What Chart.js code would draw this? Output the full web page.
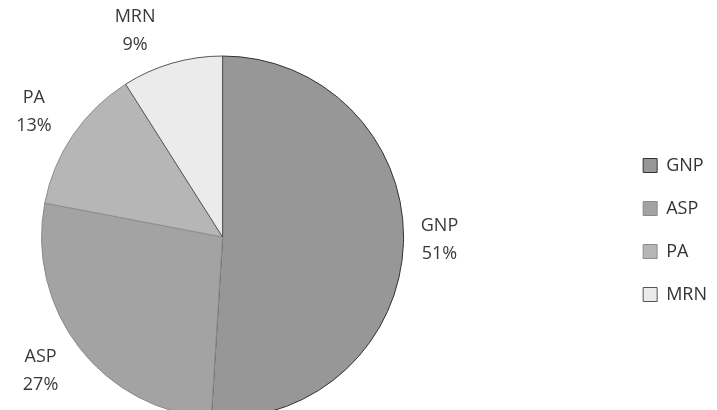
<!DOCTYPE html>
<html><head><meta charset="utf-8">
<script src="https://cdn.jsdelivr.net/npm/chart.js@4.4.1/dist/chart.umd.min.js"></script>
<style>html,body{margin:0;padding:0;background:#fff;overflow:hidden;} #wrap{width:717px;height:410px;position:relative;overflow:hidden;} #c{position:absolute;left:-173px;top:0;}</style>
</head><body><div id="wrap"><canvas id="c" width="890" height="410"></canvas></div>
<script>
const categories = ['GNP', 'ASP', 'PA', 'MRN'];
const shares = [51, 27, 13, 9];
const sliceColors = ['#979797', '#a3a3a3', '#b6b6b6', '#ebebeb'];
const sliceBorders = ['#333333', '#8a8a8a', '#8e8e8e', '#555555'];

const outsideLabels = {
  id: 'outsideLabels',
  afterDatasetsDraw(chart, args, opts) {
    const meta = chart.getDatasetMeta(0);
    const data = chart.data.datasets[0].data;
    const total = data.reduce((a, b) => a + b, 0);
    const ctx = chart.ctx;
    ctx.save();
    ctx.font = opts.font;
    ctx.fillStyle = opts.color;
    ctx.textAlign = 'center';
    ctx.textBaseline = 'middle';
    meta.data.forEach((arc, i) => {
      const p = arc.getProps(['x', 'y', 'startAngle', 'endAngle', 'outerRadius'], true);
      const mid = (p.startAngle + p.endAngle) / 2;
      const ax = p.x + Math.cos(mid) * p.outerRadius + opts.offsets[i][0];
      const ay = p.y + Math.sin(mid) * p.outerRadius + opts.offsets[i][1];
      ctx.fillText(chart.data.labels[i], ax, ay - opts.lineGap / 2);
      ctx.fillText(Math.round(data[i] / total * 100) + '%', ax, ay + opts.lineGap / 2);
    });
    ctx.restore();
  }
};

new Chart(document.getElementById('c'), {
  type: 'pie',
  data: {
    labels: categories,
    datasets: [{
      data: shares,
      backgroundColor: sliceColors,
      borderColor: sliceBorders,
      borderWidth: 1,
      clip: false
    }]
  },
  options: {
    responsive: false,
    animation: false,
    devicePixelRatio: 1,
    radius: 181,
    layout: { padding: { left: 0, right: 0, top: 50, bottom: 0 } },
    plugins: {
      tooltip: { enabled: false },
      title: {
        display: true,
        text: '',
        padding: 0,
        font: { size: 14, lineHeight: 1 }
      },
      legend: {
        position: 'right',
        labels: {
          boxWidth: 14,
          boxHeight: 14,
          padding: 25,
          color: '#333',
          font: { family: 'Open Sans', size: 18 }
        }
      },
      outsideLabels: {
        font: '18px "Open Sans"',
        color: '#3a3a3a',
        lineGap: 28,
        offsets: [[36, -3], [-39, 23], [-39, -23], [-37, -32]]
      }
    }
  },
  plugins: [outsideLabels]
});
</script>
</body></html>
